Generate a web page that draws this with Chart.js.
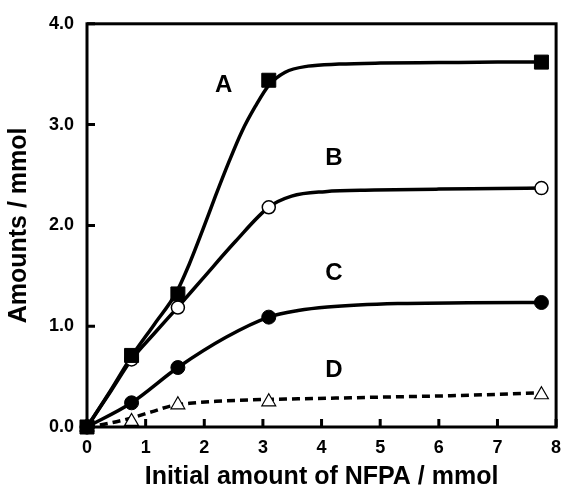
<!DOCTYPE html>
<html>
<head>
<meta charset="utf-8">
<script src="https://cdn.jsdelivr.net/npm/chart.js@4/dist/chart.umd.min.js"></script>
<style>
  html, body { margin: 0; padding: 0; background: #fff; }
  #wrap { width: 567px; height: 490px; }
</style>
</head>
<body>
<div id="wrap"><canvas id="chart" width="567" height="490"></canvas></div>
<script>
// ==================== DONNÉES ====================
// mesures (symboles)
const measX = [0, 0.76, 1.55, 3.1, 7.75];
const measA = [0, 0.71, 1.32, 3.44, 3.62];
const measB = [0, 0.67, 1.185, 2.18, 2.37];
const measC = [0, 0.24, 0.59, 1.09, 1.235];
const measD = [0, 0.055, 0.22, 0.25, 0.32];

// courbes lissées
const curveAX = [0, 0.4, 0.76, 1.15, 1.52, 1.74, 1.97, 2.19, 2.42, 2.64, 2.87, 3.1, 3.38, 3.77, 4.3, 5, 6, 7, 7.75];
const curveAY = [0, 0.36, 0.70, 1.02, 1.33, 1.61, 1.95, 2.29, 2.63, 2.93, 3.18, 3.39, 3.52, 3.58, 3.60, 3.61, 3.615, 3.62, 3.62];
const curveBX = [0, 0.4, 0.76, 1.15, 1.55, 1.97, 2.53, 3.1, 3.49, 4.06, 4.9, 6, 7, 7.75];
const curveBY = [0, 0.35, 0.67, 0.93, 1.19, 1.47, 1.84, 2.18, 2.29, 2.335, 2.35, 2.36, 2.365, 2.37];
const curveCX = [0, 0.76, 1.55, 2.37, 3.1, 3.6, 4.1, 5.3, 6.5, 7.75];
const curveCY = [0, 0.24, 0.59, 0.89, 1.09, 1.155, 1.19, 1.225, 1.232, 1.235];
const curveDX = [0, 0.4, 0.76, 1.1, 1.44, 1.75, 2.2, 2.82, 3.6, 4.5, 5.3, 6.2, 7, 7.75];
const curveDY = [0, 0.04, 0.09, 0.15, 0.21, 0.235, 0.255, 0.27, 0.28, 0.29, 0.30, 0.31, 0.324, 0.34];

const seriesNames = ["A", "B", "C", "D"];
const xTicks = [0, 1, 2, 3, 4, 5, 6, 7, 8];
const yTicks = [0, 1, 2, 3, 4];

// position des lettres (coordonnées des axes)
const nameX = [2.33, 4.21, 4.21, 4.21];
const nameY = [3.39, 2.66, 1.52, 0.56];

const FONT = "'Liberation Sans', Arial, sans-serif";
const TICK_LEN = 8;

function pts(xs, ys) {
    return xs.map((x, i) => ({ x: x, y: ys[i] }));
}

function curve(xs, ys, dash) {
    return {
        data: pts(xs, ys),
        showLine: true,
        borderColor: "#000",
        borderWidth: 3.5,
        borderDash: dash || [],
        pointRadius: 0,
        cubicInterpolationMode: "monotone",
        clip: false,
        order: 2
    };
}

function marks(ys, style, fill, radius, bw) {
    return {
        data: pts(measX, ys),
        showLine: false,
        pointStyle: style,
        pointRadius: radius,
        pointHoverRadius: radius,
        backgroundColor: fill,
        borderColor: "#000",
        borderWidth: bw,
        clip: false,
        order: 1
    };
}

// pas de marge automatique pour les étiquettes d'extrémité
const noPadding = () => ({ left: 0, top: 0, right: 0, bottom: 0 });

// ==================== PLUGINS ====================
// cadre + graduations vers l'intérieur
const framePlugin = {
    id: "frame",
    beforeDatasetsDraw(chart) {
        const a = chart.chartArea;
        const sx = chart.scales.x, sy = chart.scales.y;
        const ctx = chart.ctx;
        ctx.save();
        ctx.strokeStyle = "#000";
        ctx.lineWidth = 3;
        ctx.strokeRect(a.left, a.top, a.right - a.left, a.bottom - a.top);
        ctx.beginPath();
        xTicks.forEach(v => {
            const px = sx.getPixelForValue(v);
            ctx.moveTo(px, a.bottom);
            ctx.lineTo(px, a.bottom - TICK_LEN);
        });
        yTicks.forEach(v => {
            const py = sy.getPixelForValue(v);
            ctx.moveTo(a.left, py);
            ctx.lineTo(a.left + TICK_LEN, py);
        });
        ctx.stroke();
        ctx.restore();
    }
};

// lettres A, B, C, D
const namesPlugin = {
    id: "names",
    afterDatasetsDraw(chart) {
        const ctx = chart.ctx;
        const sx = chart.scales.x, sy = chart.scales.y;
        ctx.save();
        ctx.fillStyle = "#000";
        ctx.font = "bold 24px " + FONT;
        ctx.textAlign = "center";
        ctx.textBaseline = "middle";
        seriesNames.forEach((n, i) => {
            ctx.fillText(n, sx.getPixelForValue(nameX[i]), sy.getPixelForValue(nameY[i]));
        });
        ctx.restore();
    }
};

// ==================== GRAPHIQUE ====================
new Chart(document.getElementById("chart"), {
    type: "scatter",
    data: {
        datasets: [
            curve(curveAX, curveAY),
            curve(curveBX, curveBY),
            curve(curveCX, curveCY),
            curve(curveDX, curveDY, [8, 5]),
            marks(measA, "rect", "#000", 9.9, 1),
            marks(measB, "circle", "#fff", 6.5, 1.5),
            marks(measC, "circle", "#000", 7, 1),
            marks(measD, "triangle", "#fff", 8, 1.2)
        ]
    },
    options: {
        responsive: false,
        animation: false,
        events: [],
        layout: {
            padding: { top: 23, right: 7, left: 0, bottom: 0 }
        },
        plugins: {
            legend: { display: false },
            tooltip: { enabled: false }
        },
        scales: {
            x: {
                type: "linear",
                min: 0,
                max: 8,
                afterBuildTicks: (s) => { s.ticks = xTicks.map(v => ({ value: v })); },
                afterFit: (s) => {
                    s.height = 63;
                    s.paddingLeft = 0;
                    s.paddingRight = 0;
                    s.getPadding = noPadding;
                },
                border: { display: false },
                grid: { display: false, drawTicks: false },
                ticks: {
                    color: "#000",
                    padding: 0,
                    maxRotation: 0,
                    font: { family: FONT, size: 18, weight: "bold", lineHeight: 2.35 },
                    callback: (v) => String(v)
                },
                title: {
                    display: true,
                    text: "Initial amount of NFPA / mmol",
                    color: "#000",
                    padding: { top: 0, bottom: 0 },
                    font: { family: FONT, size: 25, weight: "bold", lineHeight: 1 }
                }
            },
            y: {
                type: "linear",
                min: 0,
                max: 4,
                afterBuildTicks: (s) => { s.ticks = yTicks.map(v => ({ value: v })); },
                afterFit: (s) => { s.width = 87; },
                border: { display: false },
                grid: { display: false, drawTicks: false },
                ticks: {
                    color: "#000",
                    padding: 13,
                    font: { family: FONT, size: 18, weight: "bold" },
                    callback: (v) => Number(v).toFixed(1)
                },
                title: {
                    display: true,
                    text: "Amounts / mmol",
                    color: "#000",
                    padding: { top: 7, bottom: 0 },
                    font: { family: FONT, size: 25, weight: "bold", lineHeight: 1 }
                }
            }
        }
    },
    plugins: [framePlugin, namesPlugin]
});
</script>
</body>
</html>
